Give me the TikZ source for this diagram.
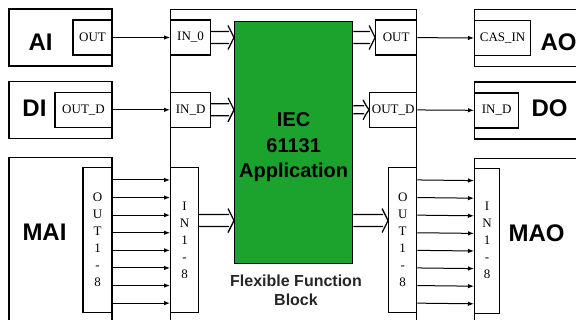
\documentclass[tikz,border=0pt]{standalone}
\usepackage{fontspec}
\setmainfont{Liberation Serif}
\setsansfont{Liberation Sans}
\usepackage{xcolor}
\usetikzlibrary{arrows.meta,positioning,calc}
\definecolor{appgreen}{RGB}{27,163,46}

\begin{document}
\begin{tikzpicture}[x=1pt, y=-1pt,
  blk/.style={draw, line width=1.3pt, minimum width=103pt,
              minimum height=57pt, inner sep=0pt},
  port/.style={draw, line width=1.2pt, fill=white, minimum height=35pt,
               inner sep=0pt, font=\fontsize{13}{13}\selectfont},
  bus/.style={draw, line width=1.2pt, fill=white, minimum width=28pt,
              minimum height=145pt, inner sep=0pt, align=center,
              font=\fontsize{13}{17}\selectfont},
  big/.style={font=\sffamily\bfseries\fontsize{24}{24}\selectfont},
  sig/.style={-{Latex[length=6pt,width=4.5pt]}, line width=1pt},
  hollow/.style={line width=1.3pt, line join=round, to path={
      let \p1=(\tikztostart), \p2=(\tikztotarget) in
      (\x1,\y1+#1) -- (\x2-5pt,\y1+#1)
      (\x1,\y1-#1) -- (\x2-5pt,\y1-#1)
      (\x2-6pt,\y1+#1+6pt) .. controls (\x2-3pt,\y1+#1) .. (\x2,\y1)
      .. controls (\x2-3pt,\y1-#1) .. (\x2-6pt,\y1-#1-6pt)}},
  hollow/.default=6pt,
  node distance=14pt
]
\useasboundingbox (0,0) rectangle (576,320);

% input blocks
\node[blk] (ai) at (60.5,37.5) {};
\node[blk, below=of ai] (di) {};
\node[blk, minimum height=175pt, below=18pt of di] (mai) {};
\node[big] (ailbl) at (40.5,42) {AI};
\node[big] (dilbl) at (34.5,108) {DI};
\node[big] (mailbl) at (44.5,232) {MAI};
\node[port, minimum width=39pt, anchor=east] (aiout) at (ai.east) {OUT};
\node[port, minimum width=57pt, anchor=east] (diout) at (di.east) {OUT\_D};
\node[bus, minimum width=29pt, anchor=north east] (maiout)
  at ([yshift=-10pt]mai.north east) {O\\U\\T\\1\\-\\8};

% flexible function block
\node[draw, line width=1.3pt, minimum width=246pt, minimum height=321pt,
      inner sep=0pt, anchor=north west] (ffb) at (170,9) {};
\node[port, minimum width=40pt, anchor=west] (in0) at (ffb.west |- aiout) {IN\_0};
\node[port, minimum width=40pt, anchor=west] (inD) at (ffb.west |- diout) {IN\_D};
\node[bus, anchor=west] (in18) at (ffb.west |- maiout) {I\\N\\1\\-\\8};
\node[draw, line width=1.3pt, fill=appgreen, minimum width=118pt,
      minimum height=242pt, anchor=north west] (app) at (234,21) {};
\node[align=center, font=\sffamily\bfseries\fontsize{20}{25.5}\selectfont]
  (apptxt) at ([yshift=-4.5pt]app.center) {IEC\\61131\\Application};
\node[port, minimum width=41pt, anchor=east] (out) at (ffb.east |- aiout) {OUT};
\node[port, minimum width=47pt, anchor=east] (outD) at (ffb.east |- diout) {OUT\_D};
\node[bus, anchor=east] (out18) at (ffb.east |- maiout) {O\\U\\T\\1\\-\\8};
\node[align=center, text=black!85,
      font=\sffamily\bfseries\fontsize{16}{19}\selectfont] (ffblbl) at (296,290)
  {Flexible Function\\Block};

% output blocks
\node[blk, minimum width=116pt, anchor=north west] (ao) at (474,9) {};
\node[blk, minimum width=116pt, below=of ao] (dout) {};
\node[blk, minimum width=116pt, minimum height=175pt, below=18pt of dout] (mao) {};
\node[big, anchor=west] (aolbl) at (537,42) {AO};
\node[big] (dolbl) at (549.5,108) {DO};
\node[big] (maolbl) at (536.5,233) {MAO};
\node[port, minimum width=56pt, anchor=west] (casin) at (ao.west) {CAS\_IN};
\node[port, minimum width=44pt, anchor=west] (doin) at (dout.west) {IN\_D};
\node[bus, minimum width=25pt, anchor=north west] (maoin)
  at ([yshift=-10pt]mao.north west) {I\\N\\1\\-\\8};

% signals
\draw[sig] (aiout) -- (in0);
\draw[sig] (diout) -- (inD);
\draw[sig] (out) -- (casin);
\draw[sig] (outD) -- (doin);
\foreach \i in {0,...,7} {
  \draw[sig] ([yshift=-13pt-\i*17.6pt]maiout.north east)
    -- ([yshift=-13pt-\i*17.6pt]in18.north west);
  \draw[sig] ([yshift=-13pt-\i*17.6pt]out18.north east)
    -- ([yshift=-13pt-\i*17.6pt]maoin.north west);
}

% into and out of the application
\draw[hollow] (in0.east) to (in0.east -| app.west);
\draw[hollow] (inD.east) to (inD.east -| app.west);
\draw[hollow] ([yshift=19.5pt]in18.east) to ([yshift=19.5pt]in18.east -| app.west);
\draw[hollow] (out.west -| app.east) to (out.west);
\draw[hollow=4pt] (outD.west -| app.east) to (outD.west);
\draw[hollow] ([yshift=19.5pt]out18.west -| app.east) to ([yshift=19.5pt]out18.west);
\end{tikzpicture}
\end{document}
